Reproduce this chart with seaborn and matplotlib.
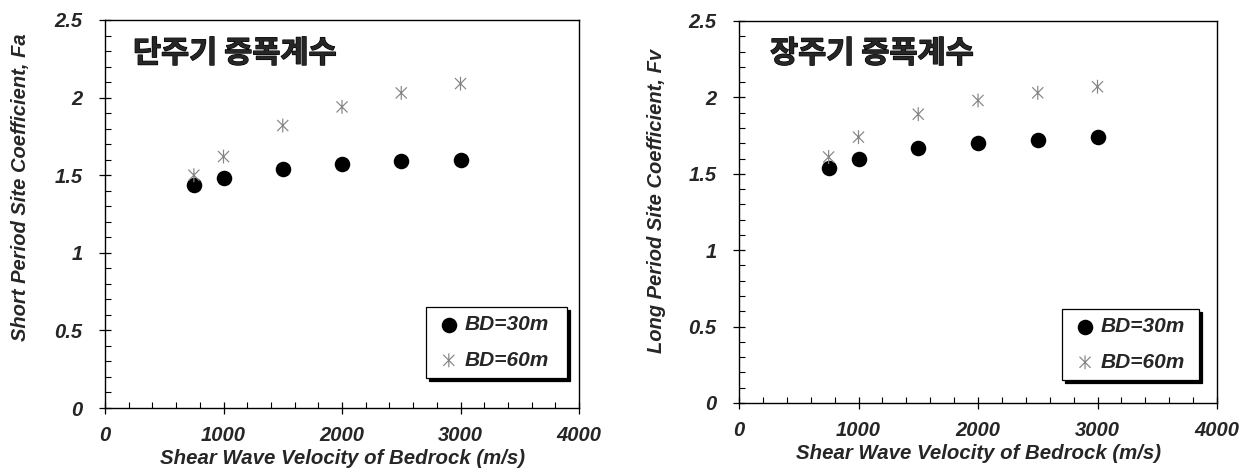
import numpy as np
import pandas as pd
import matplotlib
matplotlib.use("Agg")
import matplotlib.pyplot as plt
import matplotlib.patheffects as pe
from matplotlib.path import Path
from matplotlib.ticker import MultipleLocator
from matplotlib.font_manager import FontProperties
import seaborn as sns

# Bedrock shear wave velocity (m/s)
velocity = [750, 1000, 1500, 2000, 2500, 3000]

# Short period site coefficient Fa
fa_bd30 = [1.44, 1.48, 1.54, 1.57, 1.59, 1.60]
fa_bd60 = [1.50, 1.62, 1.82, 1.94, 2.03, 2.09]

# Long period site coefficient Fv
fv_bd30 = [1.54, 1.60, 1.67, 1.70, 1.72, 1.74]
fv_bd60 = [1.61, 1.74, 1.89, 1.98, 2.03, 2.07]

series_labels = ["BD=30m", "BD=60m"]
panel_titles = ["단주기 증폭계수", "장주기 증폭계수"]
y_labels = ["Short Period Site Coefficient, Fa", "Long Period Site Coefficient, Fv"]
x_label = "Shear Wave Velocity of Bedrock (m/s)"

sns.set_style("white")
plt.rcParams["font.family"] = ["Liberation Sans", "DejaVu Sans"]

LATIN = dict(family="Liberation Sans", weight="bold", style="italic")

# asterisk marker: an X crossed by a vertical bar
star = Path(
    [(-1, -1), (1, 1), (-1, 1), (1, -1), (0, -1.25), (0, 1.25)],
    [Path.MOVETO, Path.LINETO, Path.MOVETO, Path.LINETO, Path.MOVETO, Path.LINETO],
)

fig = plt.figure(figsize=(12.54, 4.74), dpi=100)
ax1 = fig.add_axes([105 / 1254, 66 / 474, 474 / 1254, 388 / 474])
ax2 = fig.add_axes([739 / 1254, 71 / 474, 478 / 1254, 382 / 474])

panels = [
    (ax1, fa_bd30, fa_bd60, 0, (0.677, 0.077, 0.2975, 0.188), (0.059, 0.914), (-0.158, 0.57)),
    (ax2, fv_bd30, fv_bd60, 1, (0.676, 0.060, 0.287, 0.194), (0.065, 0.915), (-0.153, 0.53)),
]

for ax, s30, s60, i, leg_box, title_pos, ylab_pos in panels:
    df = pd.DataFrame({"Vs": velocity, "BD30": s30, "BD60": s60})
    sns.scatterplot(data=df, x="Vs", y="BD30", ax=ax, marker="o", s=125,
                    color="black", edgecolor="black", linewidth=0,
                    label=series_labels[0], zorder=3)
    sns.scatterplot(data=df, x="Vs", y="BD60", ax=ax, marker=star, s=100,
                    facecolor="none", edgecolor="#858585", linewidth=0.85,
                    label=series_labels[1], zorder=4)

    ax.set_xlim(0, 4000)
    ax.set_ylim(0, 2.5)
    ax.xaxis.set_minor_locator(MultipleLocator(200))
    ax.yaxis.set_minor_locator(MultipleLocator(0.1))
    ax.set_yticks([0, 0.5, 1, 1.5, 2, 2.5])
    ax.set_yticklabels(["0", "0.5", "1", "1.5", "2", "2.5"])
    ax.set_xticks([0, 1000, 2000, 3000, 4000])
    ax.set_xticklabels(["0", "1000", "2000", "3000", "4000"])

    ax.tick_params(which="major", direction="inout", length=8, width=0.9,
                   color="black", bottom=True, left=True, top=False, right=False)
    ax.tick_params(which="minor", direction="in", length=4, width=0.8,
                   color="black", bottom=True, left=True, top=False, right=False)
    ax.tick_params(axis="x", which="major", pad=9)
    ax.tick_params(axis="y", which="major", pad=12)
    for lab in ax.get_xticklabels() + ax.get_yticklabels():
        lab.set_fontproperties(FontProperties(size=14.5, **LATIN))

    for sp in ax.spines.values():
        sp.set_visible(True)
        sp.set_color("black")
        sp.set_linewidth(1.0)

    ax.grid(False)
    ax.set_xlabel(x_label, fontsize=14.7, labelpad=3, **LATIN)
    ax.set_ylabel(y_labels[i], fontsize=14.5, **LATIN)
    ax.yaxis.set_label_coords(*ylab_pos)

    ax.text(title_pos[0], title_pos[1], panel_titles[i], transform=ax.transAxes,
            ha="left", va="center", fontsize=22, fontweight="black",
            family=["Noto Sans CJK KR", "DejaVu Sans"],
            path_effects=[pe.withStroke(linewidth=0.9, foreground="black")])

    leg = ax.legend(loc="lower left", bbox_to_anchor=leg_box, mode="expand",
                    borderaxespad=0, frameon=True, fancybox=False,
                    shadow={"color": "black", "alpha": 1},
                    handlelength=1.4, handletextpad=0.05, labelspacing=0.8,
                    borderpad=0.4, prop=FontProperties(size=15, **LATIN))
    leg.get_frame().set_edgecolor("black")
    leg.get_frame().set_linewidth(0.9)

fig.savefig("out.png", dpi=100, facecolor="white")
